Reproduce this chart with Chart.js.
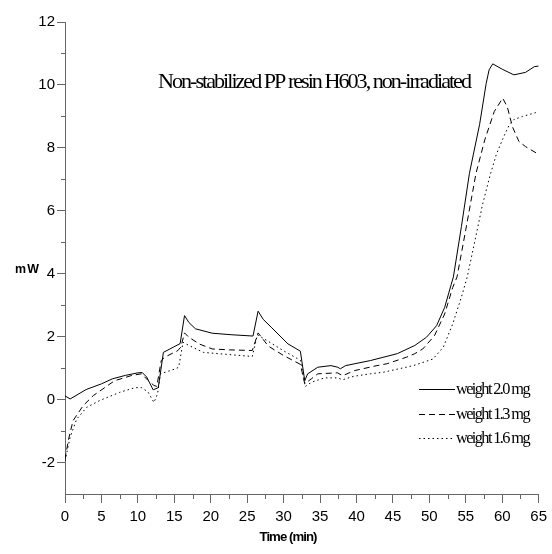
<!DOCTYPE html>
<html>
<head>
<meta charset="utf-8">
<script src="https://cdn.jsdelivr.net/npm/chart.js@4/dist/chart.umd.min.js"></script>
<style>
  html, body { margin: 0; padding: 0; background: #fff; }
  #wrap { width: 552px; height: 554px; position: relative; }
</style>
</head>
<body>
<div id="wrap"><canvas id="dscChart"></canvas></div>
<script>
// 図の文字
const TITLE = 'Non-stabilized PP resin H603, non-irradiated';
const Y_LABEL = 'mW';
const X_LABEL = 'Time (min)';

// 目盛り
const xTicks = [0, 5, 10, 15, 20, 25, 30, 35, 40, 45, 50, 55, 60, 65];
const xMinor = [2.5, 7.5, 12.5, 17.5, 22.5, 27.5, 32.5, 37.5, 42.5, 47.5, 52.5, 57.5, 62.5];
const yTicks = [-2, 0, 2, 4, 6, 8, 10, 12];
const yMinor = [-1, 1, 3, 5, 7, 9, 11];

// weight 2.0 mg（実線）
const time20 = [0, 0.7, 2.9, 5, 6.5, 8.3, 10, 10.6, 11.2, 12.1, 12.8, 13.5, 15.8, 16.4, 17, 17.9, 20.2, 22.9, 25.8, 26.5, 27.2, 28.3, 30.6, 32.3,
  32.9, 33.3, 34.7, 36.5, 37.4, 37.8, 38.5, 41.9, 45.6, 48, 49.6, 51, 52.1, 53, 53.3, 54.4, 55.5, 56.9, 57.8, 58.2, 58.7, 60, 61.6, 63.2, 64.4, 65];
const mw20 = [0.12, 0.02, 0.32, 0.5, 0.66, 0.77, 0.85, 0.86, 0.72, 0.31, 0.38, 1.5, 1.78, 2.67, 2.45, 2.25, 2.11, 2.06, 2.02, 2.81, 2.55, 2.3, 1.77, 1.54,
  0.6, 0.82, 1.03, 1.08, 1.03, 0.98, 1.08, 1.24, 1.46, 1.72, 1.98, 2.35, 2.93, 3.66, 3.9, 5.5, 7.19, 8.75, 10.05, 10.48, 10.67, 10.5, 10.32, 10.4, 10.58, 10.6];

// weight 1.3 mg（破線）
const time13 = [0, 0.45, 1.1, 2.5, 3.9, 5.2, 6.8, 9.2, 10.5, 11.4, 12.2, 12.6, 13.2, 13.7, 15.5, 15.9, 16.4, 17, 18.5, 20.2, 22.6, 25.7, 26.5, 27.9, 30, 32.3,
  32.9, 33.8, 34.7, 37.4, 38.1, 39.7, 42.8, 44.2, 46.9, 48, 49.1, 50.7, 52.1, 53.2, 53.8, 55, 56.4, 57.6, 58.9, 60.06, 60.7, 61.4, 62.3, 63.2, 64.8, 65];
const mw13 = [-1.9, -1.3, -0.67, -0.19, 0.13, 0.34, 0.6, 0.77, 0.82, 0.61, 0.45, 0.42, 1.24, 1.35, 1.56, 1.67, 2.12, 1.98, 1.76, 1.61, 1.58, 1.56, 2.12, 1.7, 1.4, 1.12,
  0.5, 0.66, 0.82, 0.85, 0.76, 0.92, 1.08, 1.14, 1.35, 1.46, 1.61, 2.03, 2.72, 3.56, 3.9, 5.4, 7.19, 8.25, 9.15, 9.58, 9.3, 8.67, 8.2, 8.04, 7.82, 7.8];

// weight 1.6 mg（点線）
const time16 = [0, 0.7, 1.6, 2.95, 4.76, 7.5, 9.6, 10.5, 11.4, 12.2, 12.7, 13.1, 15.2, 15.6, 16.2, 17, 19, 22.6, 25.7, 26.4, 27.9, 30, 32.3,
  33, 33.8, 35.6, 37.4, 38.1, 39.6, 41.9, 43.7, 47.8, 50.5, 51.9, 53.2, 54.4, 55.2, 56.3, 57.3, 58.3, 59.2, 60.1, 61, 61.6, 62.8, 64.6, 65];
const mw16 = [-1.95, -1.2, -0.62, -0.25, -0.03, 0.23, 0.38, 0.38, 0.24, -0.09, 0.18, 0.82, 0.98, 1.03, 1.82, 1.72, 1.5, 1.43, 1.37, 2.06, 1.85, 1.55, 1.25,
  0.42, 0.55, 0.69, 0.69, 0.63, 0.74, 0.82, 0.87, 1.08, 1.29, 1.66, 2.4, 3.26, 3.9, 5.1, 6.2, 7.1, 7.8, 8.3, 8.75, 8.9, 9.0, 9.12, 9.15];

const series = [
  { label: 'weight 2.0 mg', time: time20, mw: mw20, dash: [] },
  { label: 'weight 1.3 mg', time: time13, mw: mw13, dash: [6, 4] },
  { label: 'weight 1.6 mg', time: time16, mw: mw16, dash: [1.5, 3] }
];

const AXIS_COLOR = '#666';
const SANS = '"Liberation Sans", Arial, sans-serif';
const SERIF = '"Liberation Serif", "Times New Roman", serif';

// 幅を合わせて文字を描く（詰め気味の書体の再現）
function fitText(ctx, text, x, y, width, font, align) {
  ctx.save();
  ctx.font = font;
  const n = text.length;
  let w = ctx.measureText(text).width;
  if ('letterSpacing' in ctx && n > 1) {
    ctx.letterSpacing = ((width - w) / (n - 1)).toFixed(2) + 'px';
    w = ctx.measureText(text).width;
  }
  const sx = w > 0 ? width / w : 1;
  ctx.translate(x, y);
  ctx.scale(sx, 1);
  ctx.textBaseline = 'alphabetic';
  ctx.textAlign = 'left';
  const left = align === 'center' ? -w / 2 : 0;
  ctx.fillStyle = '#000';
  ctx.fillText(text, left, 0);
  ctx.restore();
}

const decorations = {
  id: 'decorations',
  afterDraw(chart) {
    const ctx = chart.ctx;
    const xs = chart.scales.x;
    const ys = chart.scales.y;
    const area = chart.chartArea;

    // 小目盛り
    ctx.save();
    ctx.strokeStyle = AXIS_COLOR;
    ctx.lineWidth = 1;
    ctx.beginPath();
    xMinor.forEach(v => {
      const px = Math.round(xs.getPixelForValue(v)) + 0.5;
      ctx.moveTo(px, area.bottom);
      ctx.lineTo(px, area.bottom + 5);
    });
    yMinor.forEach(v => {
      const py = Math.round(ys.getPixelForValue(v)) + 0.5;
      ctx.moveTo(area.left - 4, py);
      ctx.lineTo(area.left, py);
    });
    ctx.stroke();
    ctx.restore();

    // タイトルと軸ラベル
    fitText(ctx, TITLE, 314, 88, 312, '22px ' + SERIF, 'center');
    fitText(ctx, Y_LABEL, 15, 273, 25, 'bold 13px ' + SANS, 'left');
    fitText(ctx, X_LABEL, 288, 541, 57, 'bold 13px ' + SANS, 'center');

    // 凡例
    chart.data.datasets.forEach((ds, i) => {
      const ly = 389 + i * 24.6;
      ctx.save();
      ctx.strokeStyle = '#000';
      ctx.lineWidth = 1;
      ctx.setLineDash(ds.borderDash || []);
      ctx.beginPath();
      ctx.moveTo(419, Math.round(ly) + 0.5);
      ctx.lineTo(455, Math.round(ly) + 0.5);
      ctx.stroke();
      ctx.restore();
      fitText(ctx, ds.label, 456, ly + 5, 73, '16px ' + SERIF, 'left');
    });
  }
};

const datasets = series.map(s => ({
  label: s.label,
  data: s.time.map((t, i) => ({ x: t, y: s.mw[i] })),
  borderColor: '#000',
  borderWidth: 1,
  borderDash: s.dash,
  pointRadius: 0,
  tension: 0,
  fill: false
}));

new Chart(document.getElementById('dscChart').getContext('2d'), {
  type: 'line',
  data: { datasets: datasets },
  options: {
    responsive: true,
    maintainAspectRatio: false,
    animation: false,
    devicePixelRatio: 1,
    layout: { padding: { left: 0, right: 9, top: 22, bottom: 0 } },
    plugins: {
      legend: { display: false },
      tooltip: { enabled: false }
    },
    scales: {
      x: {
        type: 'linear',
        min: 0,
        max: 65,
        afterBuildTicks: s => { s.ticks = xTicks.map(v => ({ value: v })); },
        afterFit: s => { s.height = 60; },
        border: { display: true, color: AXIS_COLOR, width: 1 },
        grid: { drawOnChartArea: false, drawTicks: true, tickLength: 9, color: AXIS_COLOR },
        ticks: { color: '#000', font: { family: SANS, size: 15 }, padding: 5, maxRotation: 0, autoSkip: false }
      },
      y: {
        min: -3,
        max: 12,
        afterBuildTicks: s => { s.ticks = yTicks.map(v => ({ value: v })); },
        afterFit: s => { s.width = 65; },
        border: { display: true, color: AXIS_COLOR, width: 1 },
        grid: { drawOnChartArea: false, drawTicks: true, tickLength: 8, color: AXIS_COLOR },
        ticks: { color: '#000', font: { family: SANS, size: 15 }, padding: 2, autoSkip: false }
      }
    }
  },
  plugins: [decorations]
});
</script>
</body>
</html>
